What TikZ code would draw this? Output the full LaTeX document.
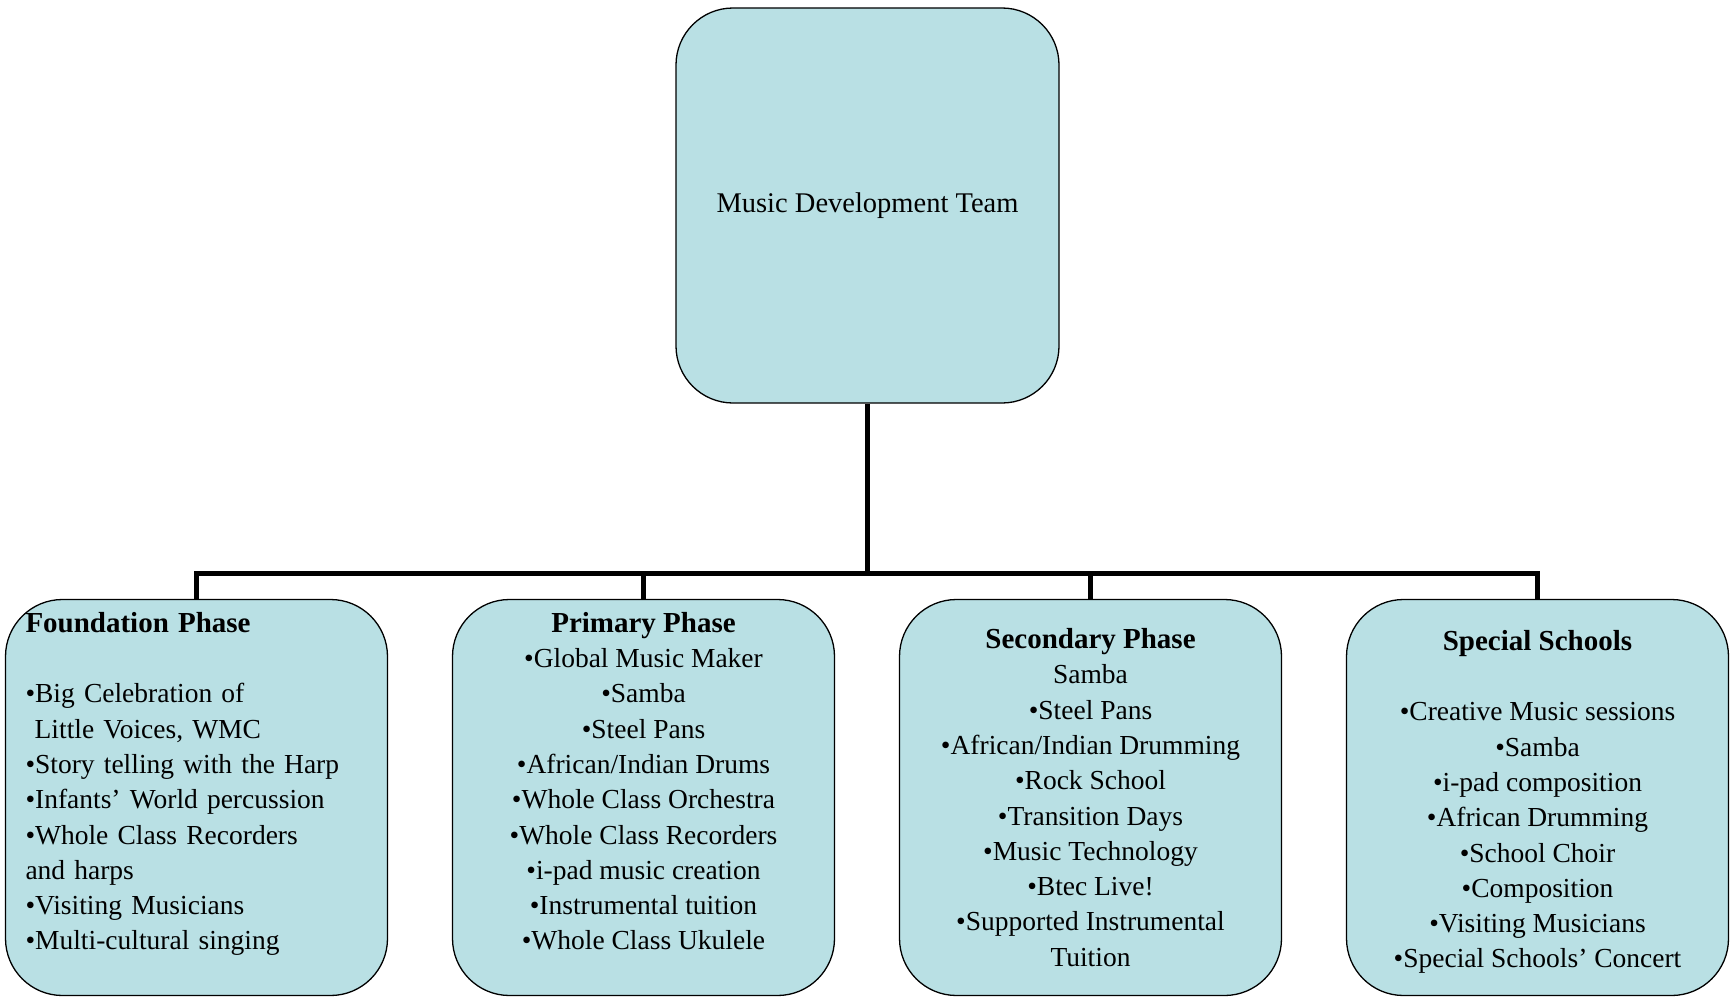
\documentclass[tikz,border=0pt]{standalone}
\usepackage{fontspec}
\setmainfont{Liberation Serif}
\usepackage{tikz}
\definecolor{boxblue}{RGB}{185,224,228}
\newcommand{\boxhead}[1]{{\fontsize{29}{35.3}\selectfont\bfseries #1}}

\begin{document}
\begin{tikzpicture}[x=1pt, y=-1pt,
	box/.style = {draw, fill=boxblue, line width=1.3pt, rounded corners=57pt,
		minimum width=382pt, minimum height=396pt, inner sep=0pt,
		font=\fontsize{27.5}{35.3}\selectfont},
	conn/.style = {line width=5.5pt}]
	\useasboundingbox (0,0) rectangle (1731,998);
	\node[box, minimum width=383pt, minimum height=395pt, font=\fontsize{28.5}{35.3}\selectfont] (team) at (867.5,205.5) {Music Development Team};
	\node[box, align=left, text width=342pt] (found) at (196.5,797.5) {\boxhead{Foundation Phase}\\ \strut\\
		•Big Celebration of\\ \ Little Voices, WMC\\ •Story telling with the Harp\\ •Infants’ World percussion\\
		•Whole Class Recorders\\ and harps\\ •Visiting Musicians\\ •Multi-cultural singing\\[-13pt] \strut};
	\node[box, align=center] (prim) at (643.5,797.5) {\boxhead{Primary Phase}\\ •Global Music Maker\\ •Samba\\
		•Steel Pans\\ •African/Indian Drums\\ •Whole Class Orchestra\\ •Whole Class Recorders\\
		•i-pad music creation\\ •Instrumental tuition\\ •Whole Class Ukulele\\[-13pt] \strut};
	\node[box, align=center] (second) at (1090.5,797.5) {\boxhead{Secondary Phase}\\ Samba\\ •Steel Pans\\
		•African/Indian Drumming\\ •Rock School\\ •Transition Days\\ •Music Technology\\ •Btec Live!\\
		•Supported Instrumental\\ Tuition};
	\node[box, align=center] (special) at (1537.5,797.5) {\rule{0pt}{29pt}\boxhead{Special Schools}\\ \strut\\ •Creative Music sessions\\
		•Samba\\ •i-pad composition\\ •African Drumming\\ •School Choir\\ •Composition\\
		•Visiting Musicians\\ •Special Schools’ Concert};
	\coordinate (bus) at (867.5,573.5);
	\draw[conn] (team) -- (bus);
	\draw[conn] (bus) -| (found.north);
	\draw[conn] (bus) -| (prim.north);
	\draw[conn] (bus) -| (second.north);
	\draw[conn] (bus) -| (special.north);
\end{tikzpicture}
\end{document}
